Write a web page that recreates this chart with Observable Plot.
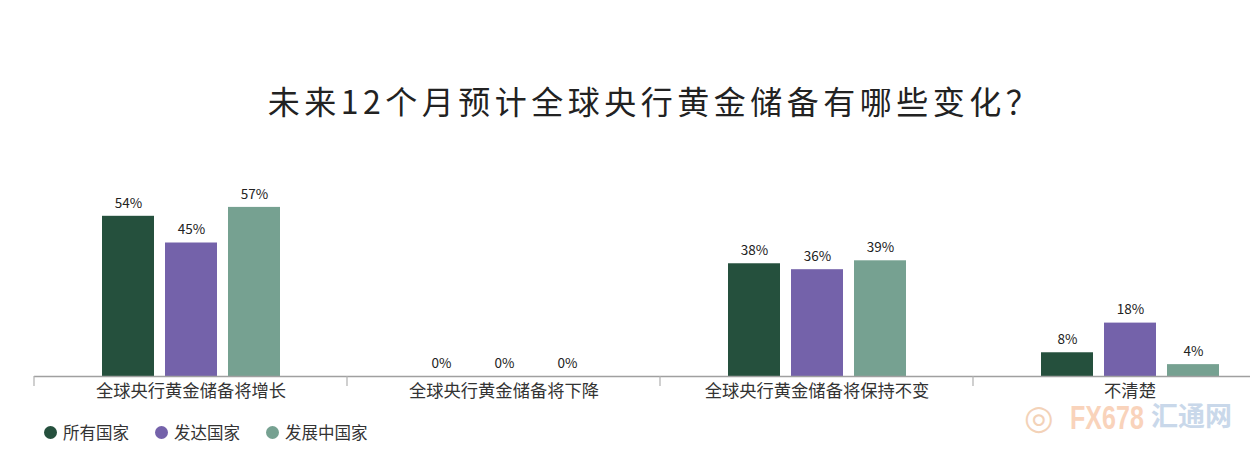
<!DOCTYPE html>
<html>
<head>
<meta charset="utf-8">
<script src="https://cdn.jsdelivr.net/npm/d3@7"></script>
<script src="https://cdn.jsdelivr.net/npm/@observablehq/plot@0.6"></script>
<style>
  html, body { margin: 0; padding: 0; background: #fff; overflow: hidden; width: 1250px; height: 456px; }
  body { position: relative; font-family: "Noto Sans CJK SC", "Noto Sans", sans-serif; }
  #title { position: absolute; left: 0; top: 80px; width: 1310px; text-align: center; font-size: 32px; line-height: 40px; letter-spacing: 4.5px; color: #222; }
  #chart { position: absolute; left: 0; top: 130px; width: 1286px; }
  #chart svg { max-width: none !important; }
  #legend { position: absolute; left: 44px; top: 420px; display: flex; gap: 0; font-size: 16.5px; color: #333; line-height: 24px; }
  #legend .item { display: flex; align-items: center; margin-right: 26px; }
  #legend .dot { width: 13px; height: 13px; border-radius: 50%; margin-right: 6px; }
  .wm { position: absolute; white-space: nowrap; line-height: 1; }
  #wm-logo { left: 1024px; top: 400px; font-size: 34px; color: #f3d2b8; font-family: "DejaVu Sans", sans-serif; }
  #wm-fx { left: 1070px; top: 401px; font-family: "Liberation Sans", sans-serif; font-weight: bold; font-size: 33px; color: #f9d3bb; transform: scaleX(0.76); transform-origin: left top; }
  #wm-cn { left: 1151px; top: 401px; font-family: "Noto Sans CJK SC", sans-serif; font-weight: bold; font-size: 27px; color: #c9d8ea; }
</style>
</head>
<body>
<div id="title">未来12个月预计全球央行黄金储备有哪些变化？</div>
<div id="chart"></div>
<div id="legend"></div>
<div class="wm" id="wm-logo">◎</div>
<div class="wm" id="wm-fx">FX678</div>
<div class="wm" id="wm-cn">汇通网</div>
<script>
const groups = ["全球央行黄金储备将增长", "全球央行黄金储备将下降", "全球央行黄金储备将保持不变", "不清楚"];
const series = ["所有国家", "发达国家", "发展中国家"];
const allCountries = [54, 0, 38, 8];
const developed = [45, 0, 36, 18];
const developing = [57, 0, 39, 4];
const colors = ["#25503d", "#7462aa", "#76a191"];

const valuesBySeries = [allCountries, developed, developing];
const data = groups.flatMap((g, i) => series.map((s, j) => ({group: g, series: s, value: valuesBySeries[j][i]})));

const chart = Plot.plot({
  width: 1286,
  height: 280,
  marginLeft: 34,
  marginRight: 0,
  marginTop: 68,
  marginBottom: 34,
  style: {fontFamily: '"Noto Sans CJK SC", "Noto Sans", sans-serif', fontSize: "17.3px", color: "#333", background: "transparent", maxWidth: "none"},
  fx: {domain: groups, padding: 0, label: null, axis: "bottom", tickSize: 0, tickPadding: 8},
  x: {domain: series, paddingInner: 0.175, paddingOuter: 1.07, axis: null},
  y: {domain: [0, 60], axis: null},
  color: {domain: series, range: colors},
  marks: [
    Plot.barY(data, {fx: "group", x: "series", y: "value", fill: "series"}),
    Plot.text(data, {fx: "group", x: "series", y: "value", text: d => d.value + "%", dy: -13, fontSize: 13.5, fill: "#222"}),
    Plot.ruleY([0], {stroke: "#a0a0a0", strokeWidth: 1.5})
  ]
});
document.getElementById("chart").append(chart);

// boundary ticks at the left edge of each group, from the fx scale
const fxs = chart.scale("fx");
const ys = chart.scale("y");
const y0 = ys.apply(0);
const svg = d3.select(chart.tagName.toLowerCase() === "svg" ? chart : chart.querySelector("svg"));
const tg = svg.append("g").attr("stroke", "#b0b0b0").attr("stroke-width", 1.2);
groups.forEach(g => {
  const x = fxs.apply(g);
  tg.append("line").attr("x1", x).attr("x2", x).attr("y1", y0).attr("y2", y0 + 10);
});

const legend = d3.select("#legend");
series.forEach((s, i) => {
  const it = legend.append("div").attr("class", "item");
  it.append("div").attr("class", "dot").style("background", colors[i]);
  it.append("span").text(s);
});
</script>
</body>
</html>
